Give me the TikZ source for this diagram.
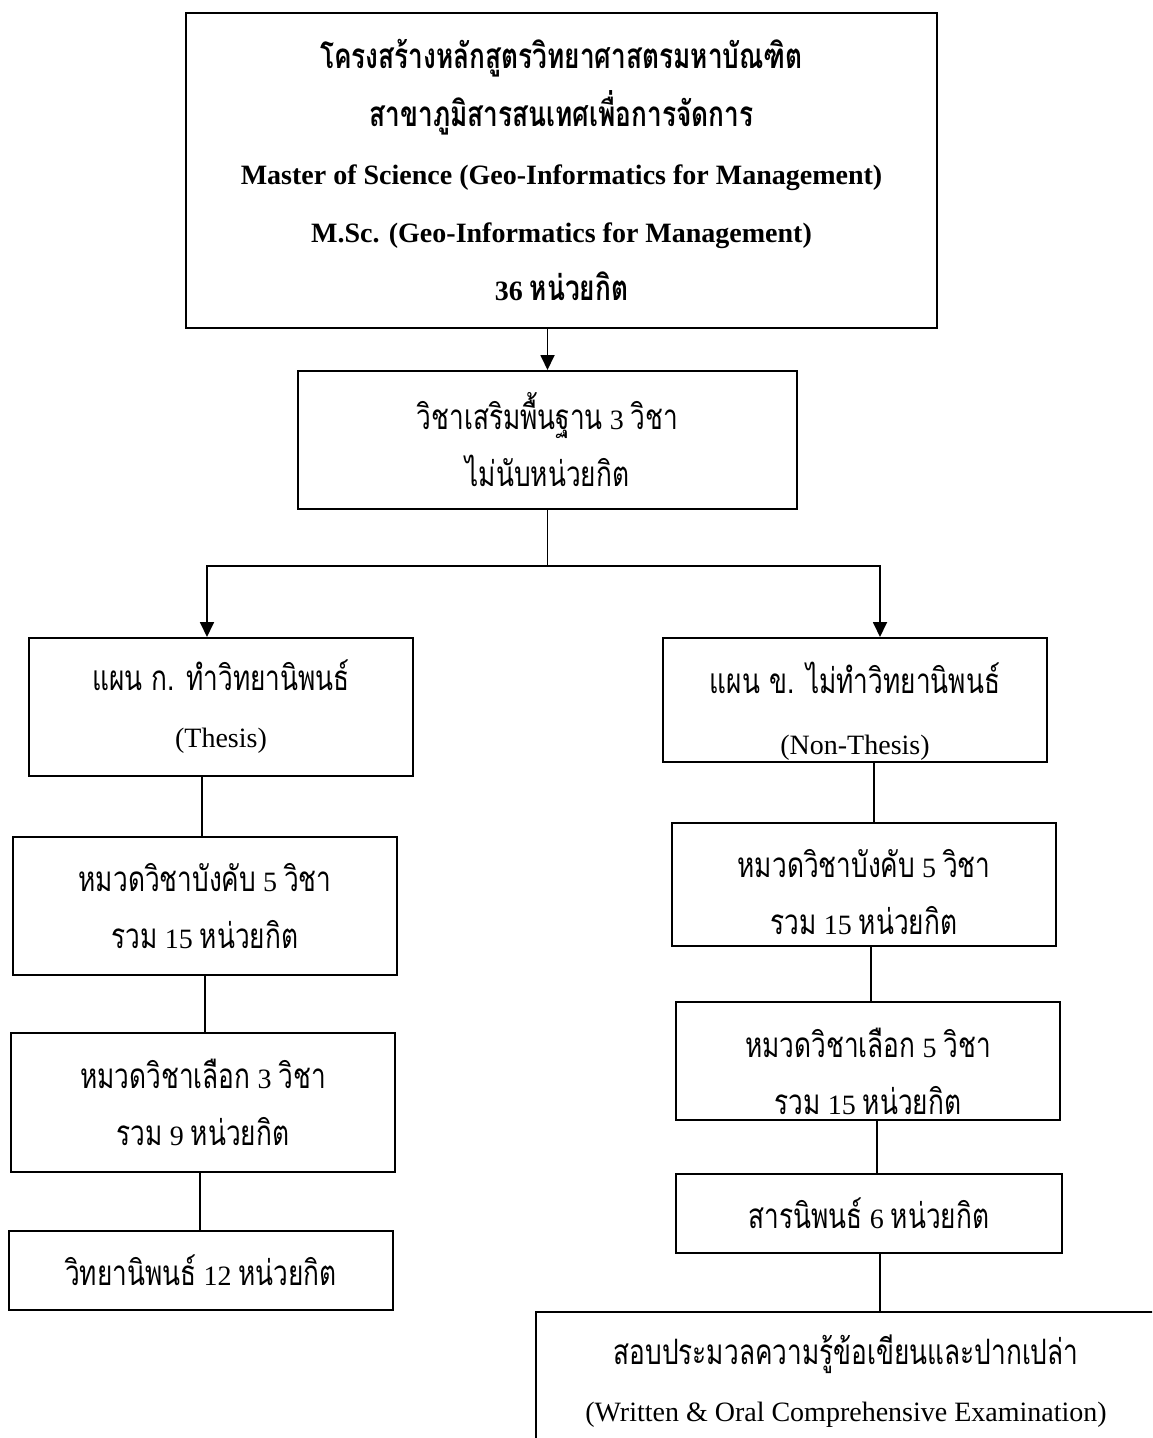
\documentclass[tikz,border=0pt]{standalone}
\usepackage{fontspec}
\setmainfont{Liberation Serif}
\newfontfamily\thaifont[Script=Thai,Scale=1.25,FakeStretch=0.75]{Loma}
\newcommand{\tx}[1]{{\thaifont #1}}
\usetikzlibrary{arrows.meta}
\begin{document}
\begin{tikzpicture}[x=1pt,y=-1pt,
  box/.style={draw, line width=2pt, rectangle, inner sep=0pt, align=center,
              font=\fontsize{28}{57}\selectfont},
  txt/.style={inner sep=0pt, align=center, font=\fontsize{28}{57}\selectfont},
  conn/.style={line width=1.8pt},
  arr/.style={conn, -{Triangle[width=14pt,length=15pt]}}]
\path[fill=white, use as bounding box] (0,0) rectangle (1152,1438);
\clip (0,0) rectangle (1152,1438);

\node[box, minimum width=751pt, minimum height=315pt,
      font=\fontsize{28}{58}\selectfont\bfseries] (top) at (561.5,170.5)
  {\tx{โครงสร้างหลักสูตรวิทยาศาสตรมหาบัณฑิต}\\
   \tx{สาขาภูมิสารสนเทศเพื่อการจัดการ}\\
   Master of Science (Geo-Informatics for Management)\\
   M.Sc. (Geo-Informatics for Management)\\
   36 \tx{หน่วยกิต}};

\node[box, minimum width=499pt, minimum height=138pt] (b2) at (547.5,440)
  {\tx{วิชาเสริมพื้นฐาน} 3 \tx{วิชา}\\ \tx{ไม่นับหน่วยกิต}};

\node[box, minimum width=384pt, minimum height=138pt] (thesisA) at (221,707)
  {\tx{แผน ก. ทำวิทยานิพนธ์}\\ (Thesis)};
\node[box, minimum width=384pt, minimum height=124pt] (nonB) at (855,700) {};
\node[txt, font=\fontsize{28}{61}\selectfont] (nonBt) at ([yshift=-11pt]nonB.center)
  {\tx{แผน ข. ไม่ทำวิทยานิพนธ์}\\ (Non-Thesis)};

\node[box, minimum width=384pt, minimum height=138pt] (compA) at (205,906)
  {\tx{หมวดวิชาบังคับ} 5 \tx{วิชา}\\ \tx{รวม} 15 \tx{หน่วยกิต}};
\node[box, minimum width=384pt, minimum height=123pt] (compB) at (864,884.5) {};
\node[txt] (compBt) at ([yshift=-8pt]compB.center)
  {\tx{หมวดวิชาบังคับ} 5 \tx{วิชา}\\ \tx{รวม} 15 \tx{หน่วยกิต}};

\node[box, minimum width=384pt, minimum height=139pt] (elecA) at (203,1102.5)
  {\tx{หมวดวิชาเลือก} 3 \tx{วิชา}\\ \tx{รวม} 9 \tx{หน่วยกิต}};
\node[box, minimum width=384pt, minimum height=118pt] (elecB) at (868,1061) {};
\node[txt] (elecBt) at ([yshift=-10pt]elecB.center)
  {\tx{หมวดวิชาเลือก} 5 \tx{วิชา}\\ \tx{รวม} 15 \tx{หน่วยกิต}};

\node[box, minimum width=384pt, minimum height=79pt] (thesisCr) at (201,1270.5)
  {\tx{วิทยานิพนธ์} 12 \tx{หน่วยกิต}};
\node[box, minimum width=386pt, minimum height=79pt] (ipB) at (869,1213.5)
  {\tx{สารนิพนธ์} 6 \tx{หน่วยกิต}};

\node[box, minimum width=620pt, minimum height=138pt] (exam) at (846,1381)
  {\tx{สอบประมวลความรู้ข้อเขียนและปากเปล่า}\\ (Written \& Oral Comprehensive Examination)};

% connectors
\draw[arr] (top.south -| b2.north) -- (b2.north);
\coordinate (j) at (547.5,566);
\coordinate (jL) at (207,566);
\coordinate (jR) at (880,566);
\draw[conn] (b2.south) -- (j);
\draw[arr] (j) -- (jL) -- (jL |- thesisA.north);
\draw[arr] (j) -- (jR) -- (jR |- nonB.north);

\draw[conn] ([xshift=-19pt]thesisA.south) -- ([xshift=-19pt]thesisA.south |- compA.north);
\draw[conn] (compA.south) -- (compA.south |- elecA.north);
\draw[conn] ([xshift=-3pt]elecA.south) -- ([xshift=-3pt]elecA.south |- thesisCr.north);

\draw[conn] ([xshift=19pt]nonB.south) -- ([xshift=19pt]nonB.south |- compB.north);
\draw[conn] ([xshift=7pt]compB.south) -- ([xshift=7pt]compB.south |- elecB.north);
\draw[conn] ([xshift=9pt]elecB.south) -- ([xshift=9pt]elecB.south |- ipB.north);
\draw[conn] ([xshift=11pt]ipB.south) -- ([xshift=11pt]ipB.south |- exam.north);
\end{tikzpicture}
\end{document}
